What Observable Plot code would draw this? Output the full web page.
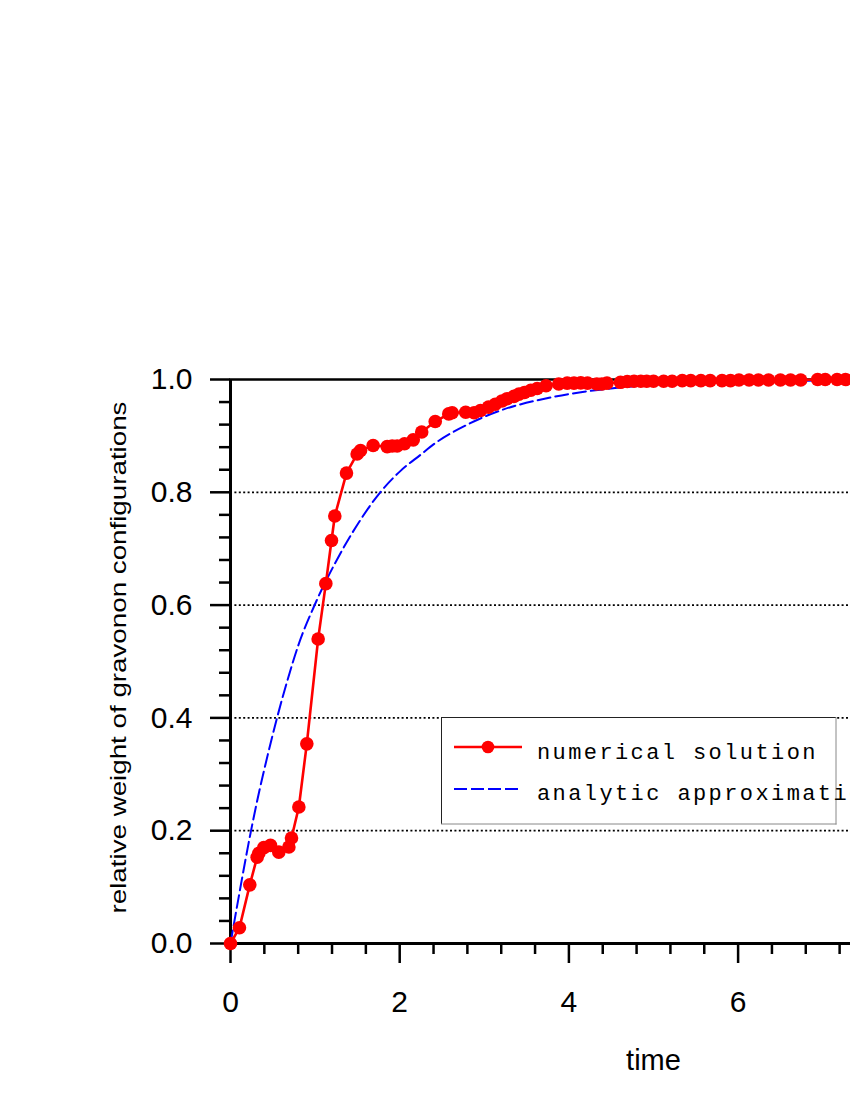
<!DOCTYPE html>
<html>
<head>
<meta charset="utf-8">
<script src="https://cdn.jsdelivr.net/npm/d3@7"></script>
<script src="https://cdn.jsdelivr.net/npm/@observablehq/plot@0.6"></script>
<style>
  html, body { margin: 0; padding: 0; overflow: hidden; background: #fff; }
  #wrap { position: relative; width: 1150px; height: 1100px; }
  #legend { position: absolute; left: 441px; top: 717px; overflow: visible; }
</style>
</head>
<body>
<div id="wrap"></div>
<script>
// ---- data ----
const numTime = [0, 0.106, 0.228, 0.315, 0.335, 0.394, 0.473, 0.571, 0.69, 0.721, 0.808, 0.902, 1.036, 1.127, 1.194, 1.233, 1.371, 1.497, 1.537, 1.686, 1.852, 1.911, 1.97, 2.057, 2.16, 2.26, 2.42, 2.58, 2.62, 2.78, 2.88, 2.955, 3.05, 3.13, 3.21, 3.27, 3.35, 3.41, 3.475, 3.55, 3.625, 3.73, 3.88, 3.98, 4.06, 4.14, 4.22, 4.33, 4.39, 4.45, 4.61, 4.69, 4.77, 4.85, 4.92, 5.0, 5.12, 5.22, 5.34, 5.44, 5.56, 5.67, 5.81, 5.91, 6.01, 6.13, 6.24, 6.36, 6.5, 6.62, 6.74, 6.94, 7.03, 7.17, 7.27, 7.4];
const numWeight = [0, 0.028, 0.104, 0.153, 0.16, 0.17, 0.174, 0.162, 0.171, 0.187, 0.242, 0.354, 0.54, 0.638, 0.7145, 0.758, 0.834, 0.868, 0.874, 0.883, 0.881, 0.882, 0.882, 0.886, 0.893, 0.907, 0.9255, 0.939, 0.941, 0.942, 0.941, 0.945, 0.951, 0.956, 0.962, 0.966, 0.970, 0.974, 0.977, 0.981, 0.984, 0.989, 0.992, 0.9935, 0.9935, 0.994, 0.9935, 0.992, 0.992, 0.9935, 0.995, 0.9965, 0.997, 0.997, 0.997, 0.997, 0.997, 0.997, 0.998, 0.998, 0.998, 0.998, 0.998, 0.998, 0.999, 0.999, 0.999, 0.999, 0.999, 0.999, 0.999, 1.0, 1.0, 1.0, 1.0, 1.0];

const anaTime = [0, 0.1, 0.24, 0.34, 0.43, 0.55, 0.67, 0.80, 1.00, 1.26, 1.54, 1.77, 2.01, 2.25, 2.40, 2.80, 3.19, 3.78, 4.37, 4.77, 5.5, 6.5, 7.5, 8.5, 10];
const anaWeight = [0, 0.085, 0.198, 0.27, 0.328, 0.40, 0.465, 0.528, 0.602, 0.681, 0.752, 0.80, 0.838, 0.867, 0.885, 0.92, 0.945, 0.968, 0.982, 0.988, 0.994, 0.997, 0.999, 1.0, 1.0];

const xMajorTicks = [0, 2, 4, 6];
const xMinorTicks = d3.range(0, 26).map(i => +(i * 0.4).toFixed(2)).filter(v => Math.abs(v / 2 - Math.round(v / 2)) > 1e-6);
const yMajorTicks = [0, 0.2, 0.4, 0.6, 0.8, 1.0];
const yMinorTicks = d3.range(0, 26).map(i => +(i * 0.04).toFixed(2)).filter(v => Math.abs(v / 0.2 - Math.round(v / 0.2)) > 1e-6);
const gridValues = [0.2, 0.4, 0.6, 0.8];

const xLabel = "time";
const yLabel = "relative weight of gravonon configurations";
const seriesNames = ["numerical solution", "analytic approximation"];

const numerical = numTime.map((t, i) => ({t, w: numWeight[i]}));
const analytic = anaTime.map((t, i) => ({t, w: anaWeight[i]}));

const chart = Plot.plot({
  width: 1150,
  height: 1100,
  marginLeft: 230,
  marginRight: 74,
  marginTop: 379,
  marginBottom: 157,
  style: {fontFamily: "'Liberation Sans', Arial, sans-serif", fontSize: "30px", color: "#000", background: "#fff", overflow: "visible"},
  x: {domain: [0, 10]},
  y: {domain: [0, 1]},
  marks: [
    Plot.ruleY(gridValues, {stroke: "#000", strokeWidth: 1.8, strokeDasharray: "2,2.4"}),
    Plot.frame({stroke: "#000", strokeWidth: 2.5}),
    Plot.axisX(xMinorTicks, {tickSize: 11, strokeWidth: 2.5, tickFormat: () => "", label: null}),
    Plot.axisX(xMajorTicks, {tickSize: 20, tickPadding: 27, strokeWidth: 2.5, tickFormat: d => String(d), fontSize: 30, label: null}),
    Plot.axisY(yMinorTicks, {tickSize: 11, strokeWidth: 2.5, tickFormat: () => "", label: null}),
    Plot.axisY(yMajorTicks, {tickSize: 20, tickPadding: 18, strokeWidth: 2.5, tickFormat: d3.format(".1f"), fontSize: 30, label: null}),
    Plot.ruleX([0], {stroke: "#000", strokeWidth: 3}),
    Plot.ruleY([0], {stroke: "#000", strokeWidth: 3}),
    Plot.line(analytic, {x: "t", y: "w", stroke: "#0000ff", strokeWidth: 2, strokeDasharray: "13,5", curve: "monotone-x"}),
    Plot.line(numerical, {x: "t", y: "w", stroke: "#ff0000", strokeWidth: 2.6}),
    Plot.dot(numerical, {x: "t", y: "w", r: 6.8, fill: "#ff0000", stroke: "none"}),
    Plot.text([xLabel], {frameAnchor: "bottom", lineAnchor: "middle", dy: 117, fontSize: 29, fill: "#000"}),
    Plot.text([yLabel], {frameAnchor: "left", rotate: -90, textAnchor: "middle", lineAnchor: "middle", dx: -112, dy: -4, fontSize: 22, fill: "#000"})
  ]
});

// stretch the y label along its length as in the reference
chart.querySelectorAll("text").forEach(el => {
  if (el.textContent === yLabel) {
    el.setAttribute("textLength", 512);
    el.setAttribute("lengthAdjust", "spacingAndGlyphs");
  }
});

const wrap = document.getElementById("wrap");
wrap.appendChild(chart);

// legend box inside the plot area
const lg = d3.create("svg").attr("id", "legend").attr("width", 440).attr("height", 112);
lg.append("rect").attr("x", 0).attr("y", 0).attr("width", 395).attr("height", 107).attr("fill", "#fff");
lg.append("line").attr("x1", 0).attr("y1", 0.5).attr("x2", 395).attr("y2", 0.5).attr("stroke", "#222");
lg.append("line").attr("x1", 0.5).attr("y1", 0).attr("x2", 0.5).attr("y2", 107).attr("stroke", "#222");
lg.append("line").attr("x1", 395).attr("y1", 0).attr("x2", 395).attr("y2", 107.5).attr("stroke", "#888");
lg.append("line").attr("x1", 0).attr("y1", 107).attr("x2", 395.5).attr("y2", 107).attr("stroke", "#888");
lg.append("line").attr("x1", 13).attr("y1", 30).attr("x2", 81).attr("y2", 30).attr("stroke", "#ff0000").attr("stroke-width", 2.6);
lg.append("circle").attr("cx", 47).attr("cy", 30).attr("r", 6.3).attr("fill", "#ff0000");
lg.append("line").attr("x1", 13).attr("y1", 72).attr("x2", 81).attr("y2", 72).attr("stroke", "#0000ff").attr("stroke-width", 2).attr("stroke-dasharray", "13,4");
const ts = {"font-family": "'Liberation Mono', 'DejaVu Sans Mono', monospace", "font-size": "22px", "letter-spacing": "2.4px", "fill": "#000"};
const t1 = lg.append("text").attr("x", 96).attr("y", 42).text(seriesNames[0]);
const t2 = lg.append("text").attr("x", 96).attr("y", 83).text(seriesNames[1]);
for (const [k, v] of Object.entries(ts)) { t1.attr(k, v); t2.attr(k, v); }
lg.style("overflow", "visible");
wrap.appendChild(lg.node());
</script>
</body>
</html>
